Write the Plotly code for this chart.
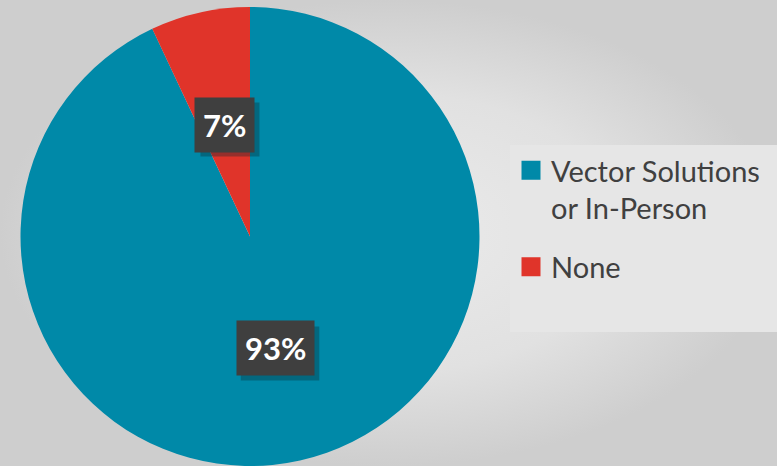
import math
import plotly.graph_objects as go

labels = ["Vector Solutions<br>or In-Person", "None"]
values = [93, 7]
colors = ["#0089A8", "#E0342A"]
pct_text = ["93%", "7%"]

W, H = 777, 466
# pie domain in paper fractions
dom_x = [20 / W, 480 / W]
dom_y = [0.0, 1 - 7 / H]

fig = go.Figure()

# radial gradient background via hidden cartesian fill
fig.add_trace(go.Scatter(
    x=[0, 1, 1, 0, 0], y=[0, 0, 1, 1, 0], mode="lines", fill="toself",
    line=dict(width=0), hoverinfo="skip", showlegend=False,
    fillgradient=dict(type="radial", colorscale=[[0, "#ebebeb"], [0.6, "#e1e1e1"], [1, "#cecece"]]),
))

fig.add_trace(go.Pie(
    labels=labels, values=values, sort=False, direction="clockwise", rotation=0,
    marker=dict(colors=colors, line=dict(width=0)), textinfo="none",
    domain=dict(x=dom_x, y=dom_y), hoverinfo="label+percent", showlegend=False,
))

# legend entries (square swatches) built from the same labels/colours
for i, (lab, col) in enumerate(zip(labels, colors)):
    fig.add_trace(go.Scatter(
        x=[None], y=[None], mode="markers", name=lab, legendgroup=f"g{i}",
        marker=dict(symbol="square", size=16, color=col, line=dict(width=3, color=col)),
        showlegend=True,
    ))

# percentage labels at half radius along slice mid-angles
cx_px = (dom_x[0] + dom_x[1]) / 2 * W
cy_px = H - (dom_y[0] + dom_y[1]) / 2 * H
R = min((dom_x[1] - dom_x[0]) * W, (dom_y[1] - dom_y[0]) * H) / 2
total = sum(values)
cum = 0
annotations = []
shapes = [dict(type="rect", xref="paper", yref="paper", x0=510 / W, x1=1.0,
               y0=1 - 332 / H, y1=1 - 145 / H, fillcolor="#e6e6e6", line=dict(width=0), layer="above")]
for v, t in zip(values, pct_text):
    mid = (cum + v / 2) / total * 2 * math.pi
    cum += v
    r = 0.5 * R
    px = cx_px + r * math.sin(mid)
    py = cy_px - r * math.cos(mid)
    xf, yf = px / W, 1 - py / H
    # drop shadow behind label box
    bw = 20 + 19.5 * len(t)
    bh = 54
    sx, sy = 5, 5
    shapes.append(dict(type="rect", xref="paper", yref="paper",
                       x0=(px - bw / 2 + sx) / W, x1=(px + bw / 2 + sx) / W,
                       y0=1 - (py + bh / 2 + sy) / H, y1=1 - (py - bh / 2 + sy) / H,
                       fillcolor="rgba(10,40,50,0.35)", line=dict(width=0), layer="above"))
    annotations.append(dict(x=xf, y=yf, xref="paper", yref="paper", text="<b>" + t + "</b>",
                            showarrow=False, xanchor="center", yanchor="middle",
                            font=dict(family="Lato", size=31, color="white"),
                            bgcolor="#3f3f3f", borderpad=8))

fig.update_layout(
    width=W, height=H, margin=dict(l=0, r=0, t=0, b=0),
    paper_bgcolor="#e0e0e0", plot_bgcolor="rgba(0,0,0,0)",
    xaxis=dict(visible=False, range=[0, 1], domain=[0, 1], fixedrange=True),
    yaxis=dict(visible=False, range=[0, 1], domain=[0, 1], fixedrange=True),
    showlegend=True,
    legend=dict(x=511 / W, y=1 - 145 / H, xanchor="left", yanchor="top",
                bgcolor="rgba(0,0,0,0)", font=dict(family="Lato", size=29, color="#404040"),
                tracegroupgap=18, itemwidth=30, itemsizing="trace", valign="top"),
    annotations=annotations,
    shapes=shapes,
)

fig.write_html("out.html")
